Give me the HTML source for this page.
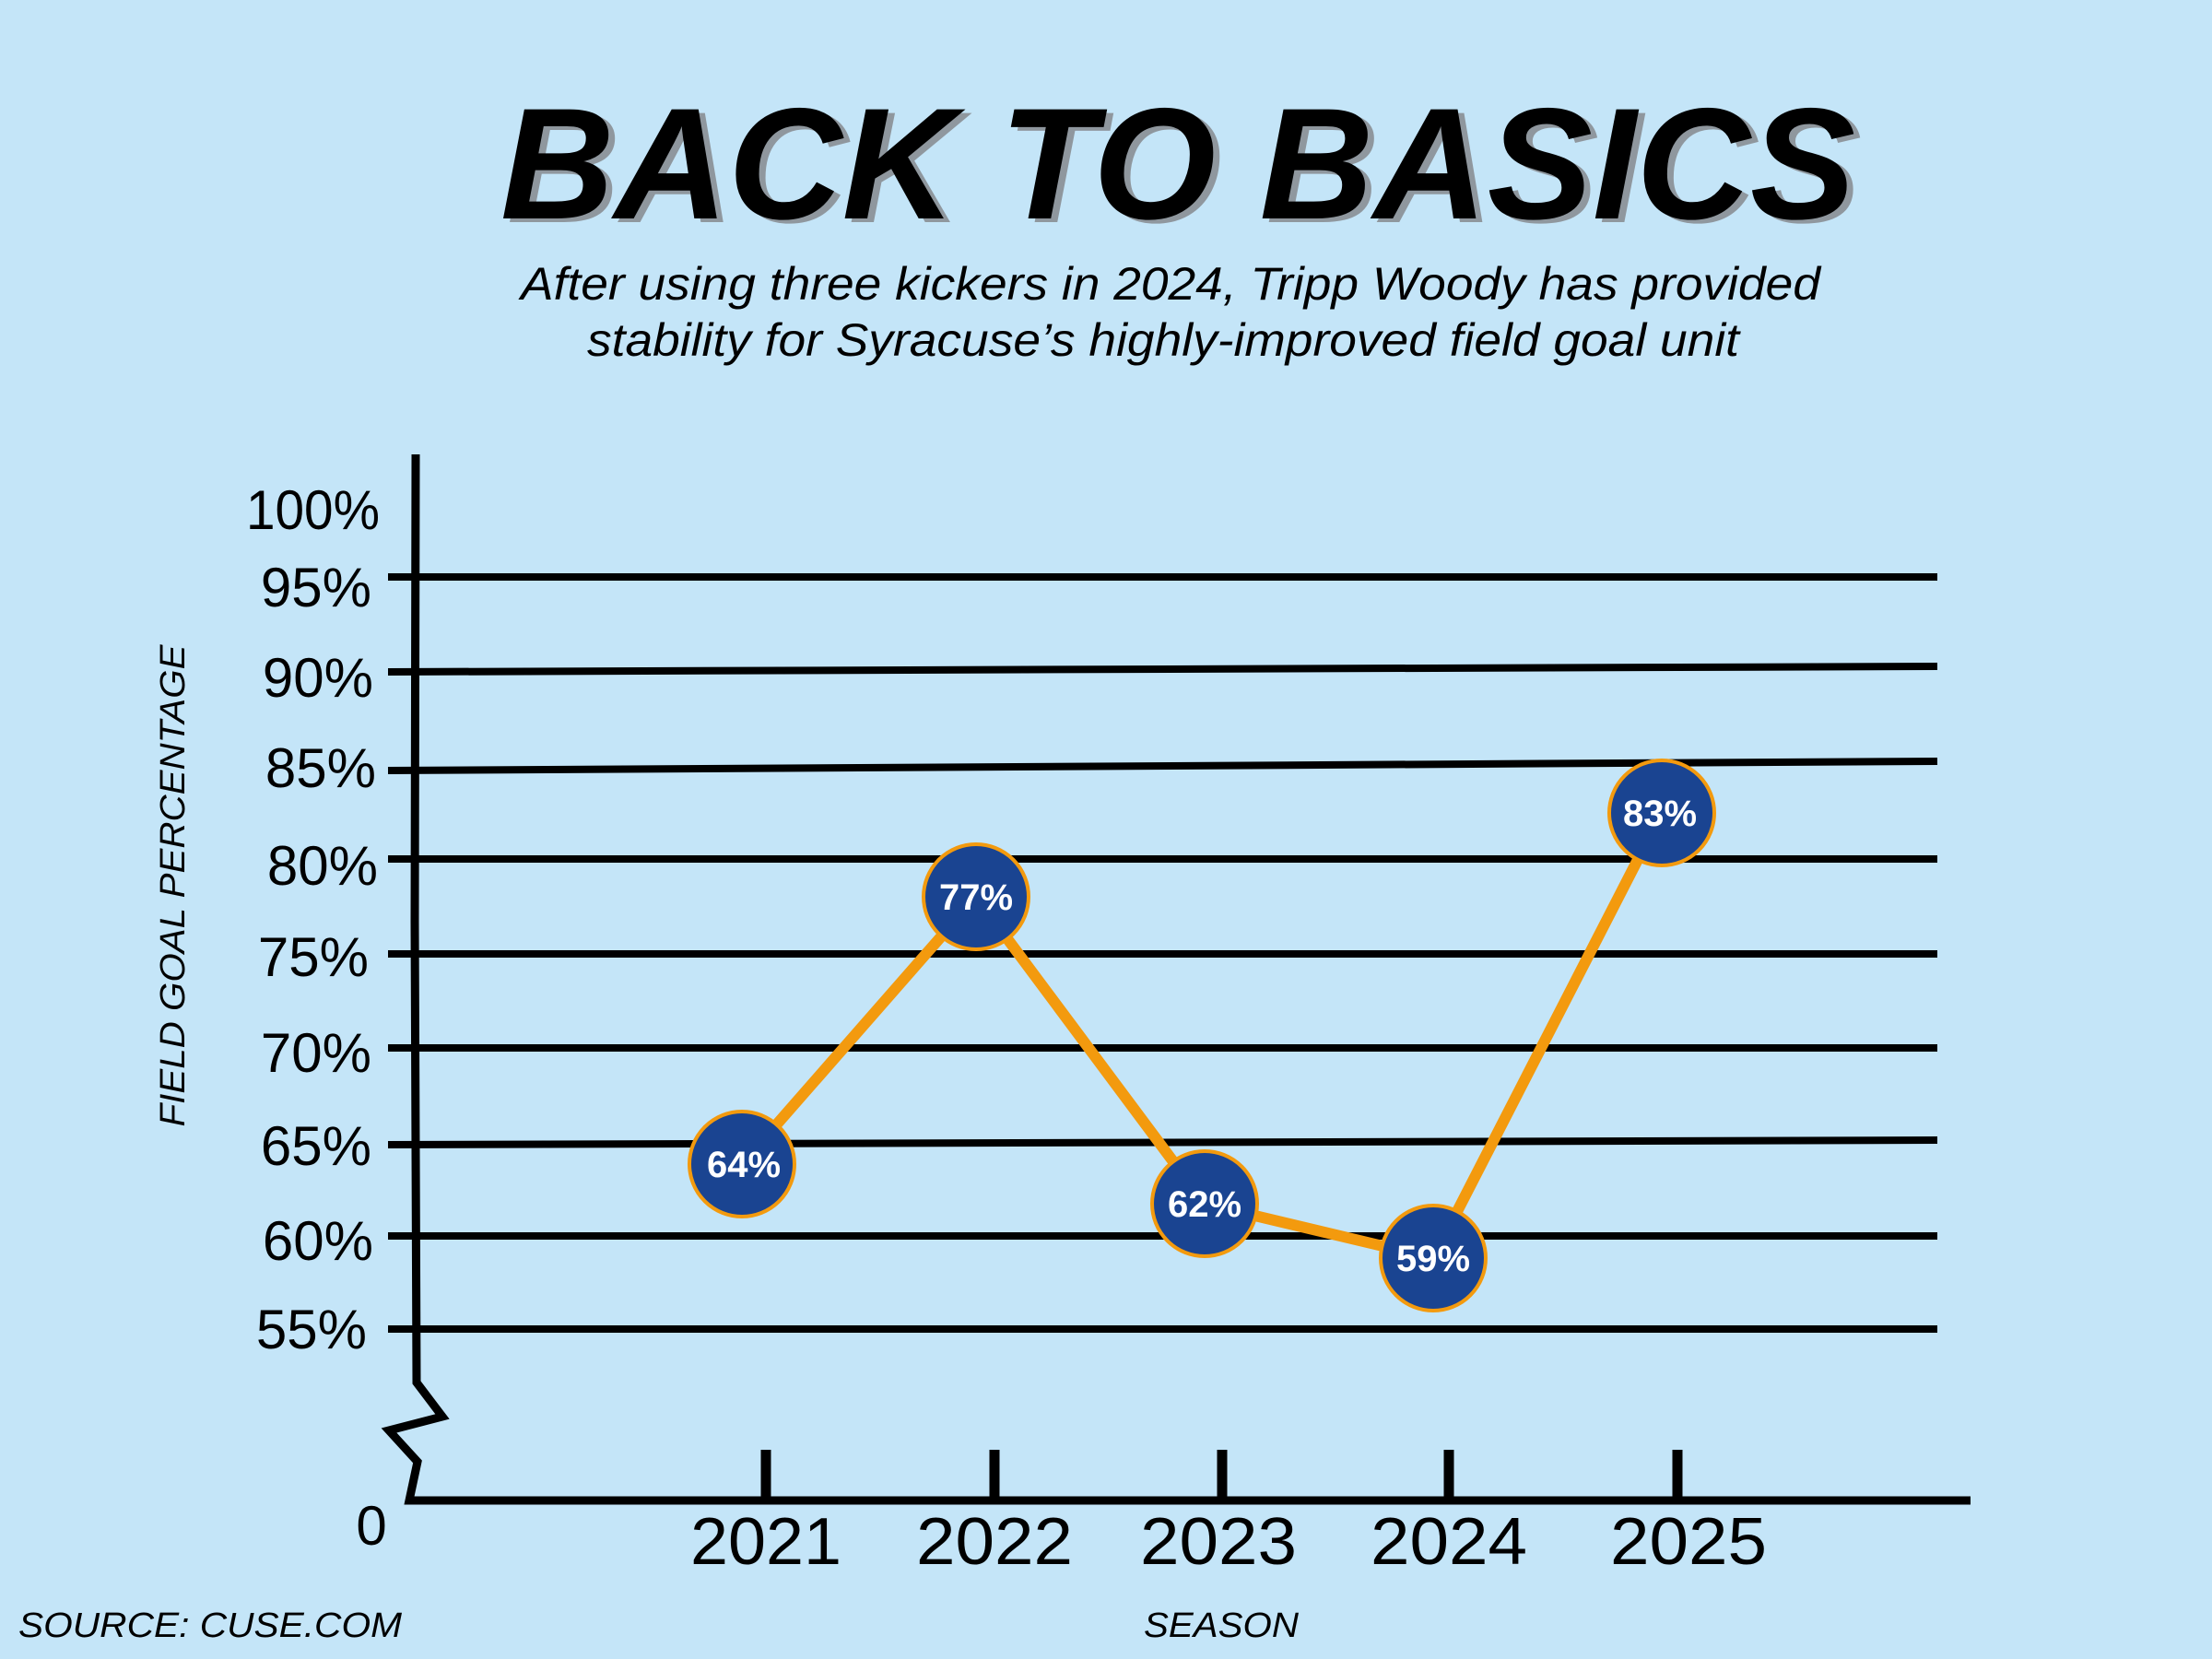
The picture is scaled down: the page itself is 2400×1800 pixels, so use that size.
<!DOCTYPE html>
<html><head><meta charset="utf-8"><style>
html,body{margin:0;padding:0;background:#c4e5f8;}
svg{display:block;}
</style></head><body>
<svg width="2400" height="1800" viewBox="0 0 2400 1800" xmlns="http://www.w3.org/2000/svg">
<rect width="2400" height="1800" fill="#c4e5f8"/>
<g font-family="Liberation Sans, sans-serif" font-weight="bold" font-style="italic" font-size="172">
<text x="550" y="241" fill="#8f979e" textLength="1470" lengthAdjust="spacingAndGlyphs">BACK TO BASICS</text>
<text x="543" y="237" fill="#000" textLength="1470" lengthAdjust="spacingAndGlyphs">BACK TO BASICS</text>
</g>
<g font-family="Liberation Sans, sans-serif" font-style="italic" font-size="50" fill="#000" text-anchor="middle">
<text x="1270" y="325" textLength="1410" lengthAdjust="spacingAndGlyphs">After using three kickers in 2024, Tripp Woody has provided</text>
<text x="1262" y="386" textLength="1250" lengthAdjust="spacingAndGlyphs">stability for Syracuse’s highly-improved field goal unit</text>
</g>
<g stroke="#000" stroke-width="8">
<line x1="421" y1="626" x2="2102" y2="626"/>
<line x1="421" y1="729" x2="2102" y2="723"/>
<line x1="421" y1="836" x2="2102" y2="826"/>
<line x1="421" y1="932" x2="2102" y2="932"/>
<line x1="421" y1="1035" x2="2102" y2="1035"/>
<line x1="421" y1="1137" x2="2102" y2="1137"/>
<line x1="421" y1="1242" x2="2102" y2="1237"/>
<line x1="421" y1="1341" x2="2102" y2="1341"/>
<line x1="421" y1="1442" x2="2102" y2="1442"/>
</g>
<polyline points="451,493 450,1000 452,1500 480,1537 422,1552 453,1586 444,1628 2138,1628" fill="none" stroke="#000" stroke-width="9" stroke-linejoin="miter"/>
<g stroke="#000" stroke-width="11">
<line x1="831" y1="1573" x2="831" y2="1627"/>
<line x1="1079" y1="1573" x2="1079" y2="1627"/>
<line x1="1326" y1="1573" x2="1326" y2="1627"/>
<line x1="1572" y1="1573" x2="1572" y2="1627"/>
<line x1="1820" y1="1573" x2="1820" y2="1627"/>
</g>
<g font-family="Liberation Sans, sans-serif" font-size="60" fill="#000" text-anchor="end">
<text x="412" y="574" textLength="145" lengthAdjust="spacingAndGlyphs">100%</text>
<text x="403" y="658">95%</text>
<text x="405" y="756">90%</text>
<text x="408" y="854">85%</text>
<text x="410" y="960">80%</text>
<text x="400" y="1059">75%</text>
<text x="403" y="1163">70%</text>
<text x="403" y="1264">65%</text>
<text x="405" y="1367">60%</text>
<text x="398" y="1463">55%</text>
<text x="403" y="1676" text-anchor="middle">0</text>
</g>
<g font-family="Liberation Sans, sans-serif" font-size="72" fill="#000" text-anchor="middle">
<text x="831" y="1697" textLength="164" lengthAdjust="spacingAndGlyphs">2021</text>
<text x="1079" y="1697" textLength="170" lengthAdjust="spacingAndGlyphs">2022</text>
<text x="1322" y="1697" textLength="170" lengthAdjust="spacingAndGlyphs">2023</text>
<text x="1572" y="1697" textLength="170" lengthAdjust="spacingAndGlyphs">2024</text>
<text x="1832" y="1697" textLength="170" lengthAdjust="spacingAndGlyphs">2025</text>
</g>
<g font-family="Liberation Sans, sans-serif" font-style="italic" font-size="38" fill="#000">
<text x="0" y="0" transform="translate(200,961) rotate(-90)" text-anchor="middle" textLength="523" lengthAdjust="spacingAndGlyphs">FIELD GOAL PERCENTAGE</text>
<text x="1325" y="1776" text-anchor="middle" textLength="168" lengthAdjust="spacingAndGlyphs">SEASON</text>
<text x="20" y="1776" textLength="416" lengthAdjust="spacingAndGlyphs">SOURCE: CUSE.COM</text>
</g>
<polyline points="805,1263 1059,973 1307,1306 1555,1365 1803,882" fill="none" stroke="#f39a0e" stroke-width="12" stroke-linejoin="round"/>
<g fill="#1a4491" stroke="#f39a0e" stroke-width="4">
<circle cx="805" cy="1263" r="57"/>
<circle cx="1059" cy="973" r="57"/>
<circle cx="1307" cy="1306" r="57"/>
<circle cx="1555" cy="1365" r="57"/>
<circle cx="1803" cy="882" r="57"/>
</g>
<g font-family="Liberation Sans, sans-serif" font-weight="bold" font-size="40" fill="#fff" text-anchor="middle">
<text x="807" y="1277">64%</text>
<text x="1059" y="987">77%</text>
<text x="1307" y="1320">62%</text>
<text x="1555" y="1379">59%</text>
<text x="1801" y="896">83%</text>
</g>
</svg>
</body></html>
